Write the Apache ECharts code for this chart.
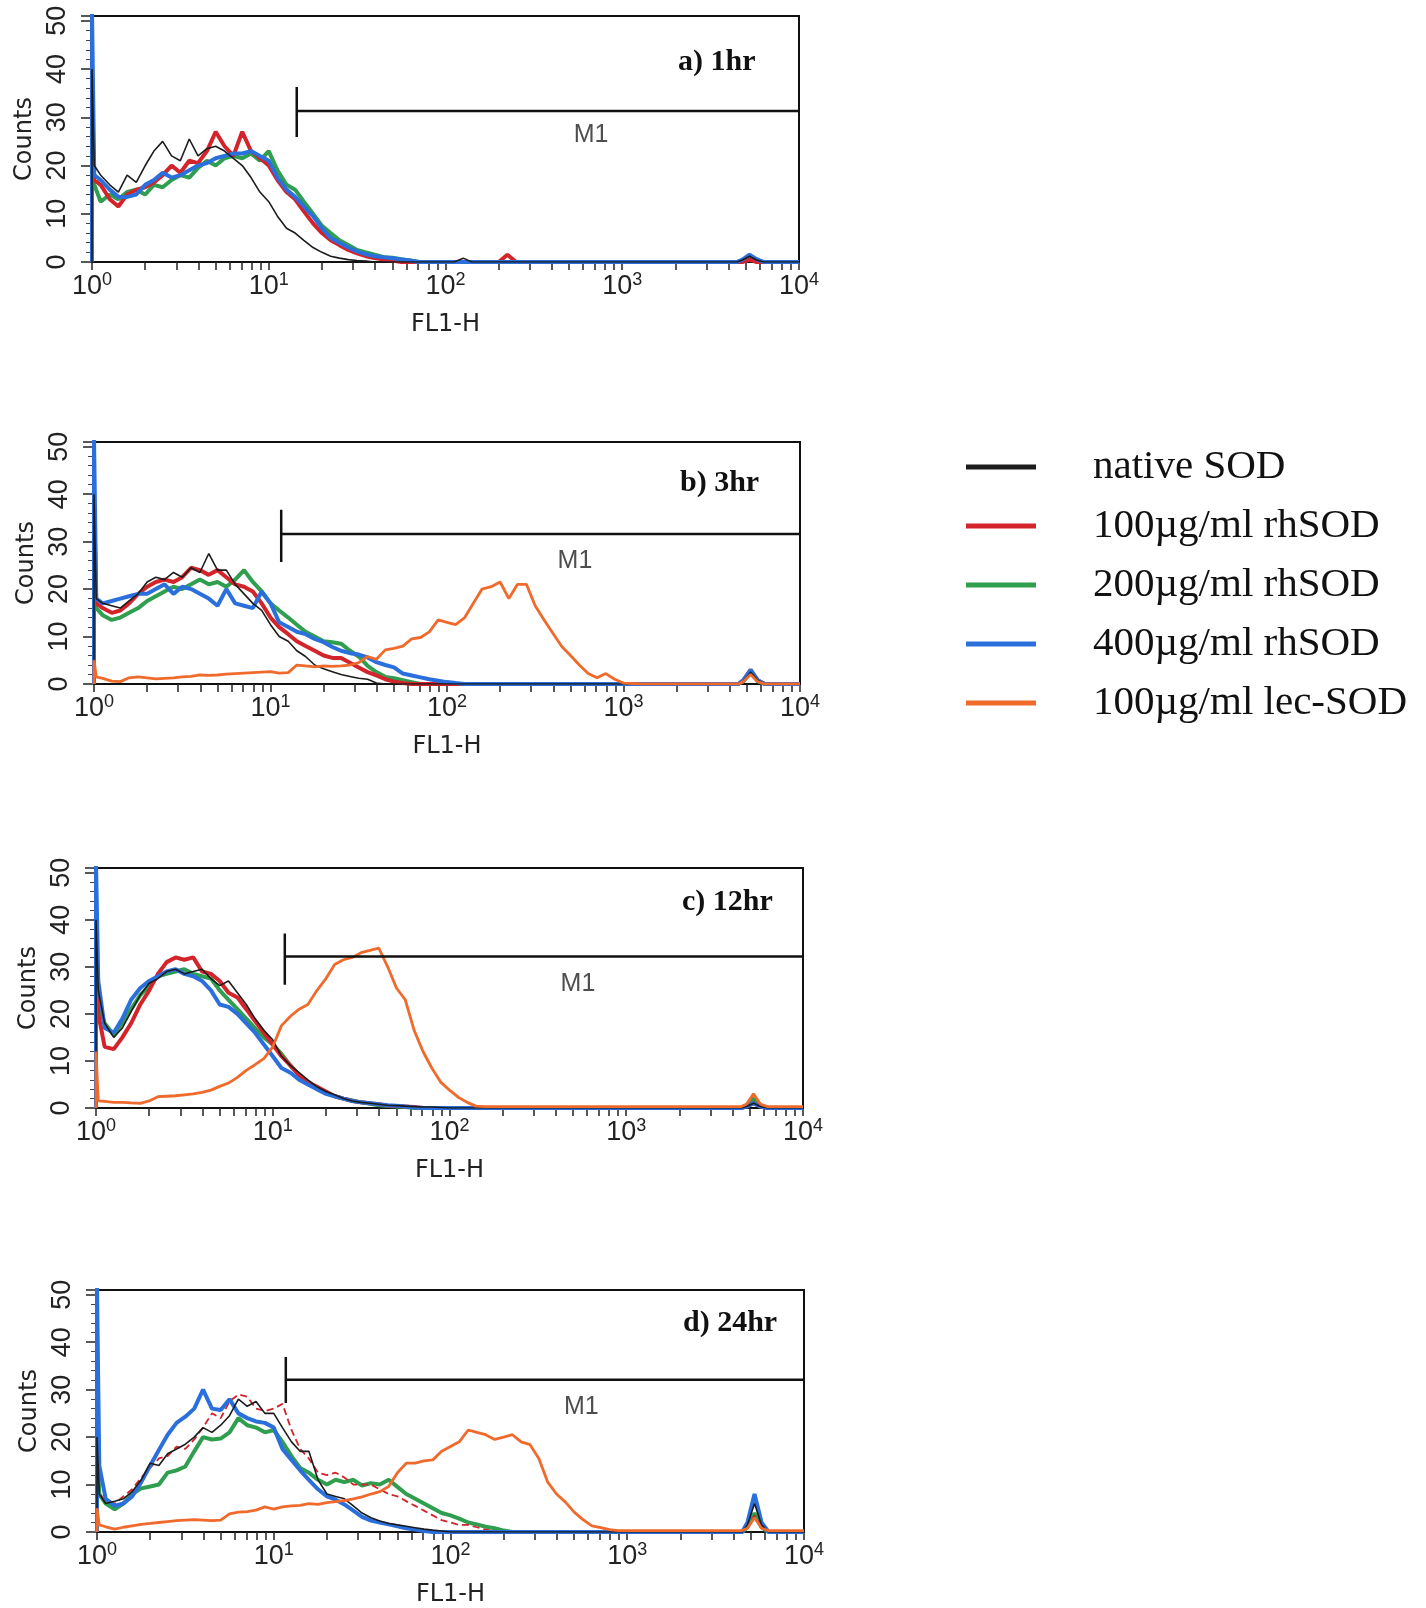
<!DOCTYPE html>
<html>
<head>
<meta charset="utf-8">
<script src="https://cdn.jsdelivr.net/npm/echarts@6/dist/echarts.min.js"></script>
<style>
html,body{margin:0;padding:0;background:#fff;}
#chart{width:1426px;height:1608px;}
</style>
</head>
<body>
<div id="chart"></div>
<script>
// FL1-H channel values (x), shared by all histograms
const FL1 = [1, 1.03,
  1.12, 1.26, 1.41, 1.58, 1.78, 2.00, 2.24, 2.51, 2.82, 3.16, 3.55, 3.98, 4.47, 5.01, 5.62, 6.31, 7.08, 7.94, 8.91, 10.0,
  11.2, 12.6, 14.1, 15.8, 17.8, 20.0, 22.4, 25.1, 28.2, 31.6, 35.5, 39.8, 44.7, 50.1, 56.2, 63.1, 70.8, 79.4, 89.1, 100,
  112, 126, 141, 158, 178, 200, 224, 251, 282, 316, 355, 398, 447, 501, 562, 631, 708, 794, 891, 1000,
  1259, 1585, 1995, 2512, 3162, 3981, 4467, 4786, 5248, 5754, 6310, 7943, 10000];

const SERIES_NAMES = ['native SOD', '100µg/ml rhSOD', '200µg/ml rhSOD', '400µg/ml rhSOD', '100µg/ml lec-SOD'];
const PANEL_TITLES = ['a) 1hr', 'b) 3hr', 'c) 12hr', 'd) 24hr'];
const X_LABEL_VALUES = [1, 10, 100, 1000, 10000];
const X_TICK_VALUES = [1,2,3,4,5,6,7,8,9,10,20,30,40,50,60,70,80,90,100,200,300,400,500,600,700,800,900,1000,2000,3000,4000,5000,6000,7000,8000,9000,10000];
const Y_TICK_LABELS = [0, 10, 20, 30, 40, 50];

// ---- panel a) 1hr ----
const blackA = [40, 20,
  18, 16, 14.5, 18, 16.5, 20, 23, 25, 22, 21, 25.5, 22, 23.5, 24, 23, 21.5, 20, 17.5, 14.5, 12.5,
  9.5, 7, 6, 4.5, 3, 2, 1.2, 0.8, 0.5, 0.3, 0.2, 0, 0, 0, 0, 0, 0, 0, 0, 0,
  0, 0.8, 0, 0, 0, 0, 0, 0, 0, 0, 0, 0, 0, 0, 0, 0, 0, 0, 0, 0,
  0, 0, 0, 0, 0, 0, 0, 0.4, 1.2, 0.4, 0, 0, 0];
const redA = [30, 17,
  16, 13, 11.5, 14, 15, 15.5, 16.5, 18, 20, 18.5, 21, 20.5, 23, 27, 24, 22, 27, 23, 21.5, 20,
  17, 14.5, 13, 10.5, 8, 6, 4.5, 3.5, 2.5, 1.8, 1.2, 0.8, 0.5, 0.3, 0, 0, 0, 0, 0, 0,
  0, 0, 0, 0, 0, 0, 1.5, 0, 0, 0, 0, 0, 0, 0, 0, 0, 0, 0, 0, 0,
  0, 0, 0, 0, 0, 0, 0, 0, 0.5, 0, 0, 0, 0];
const greenA = [30, 16,
  12.5, 14, 13, 14.5, 15, 14, 16, 15.5, 17, 18, 17.5, 19.5, 21, 20, 21.5, 22, 21.5, 22.5, 21, 23,
  19, 16, 15, 12.5, 10, 7.5, 6, 4.5, 3.5, 2.5, 2, 1.5, 1, 0.9, 0.6, 0.3, 0, 0, 0, 0,
  0, 0, 0, 0, 0, 0, 0, 0, 0, 0, 0, 0, 0, 0, 0, 0, 0, 0, 0, 0,
  0, 0, 0, 0, 0, 0, 0, 0.3, 1, 0.3, 0, 0, 0];
const blueA = [52, 18,
  17, 15, 13.5, 13.5, 14, 16, 17, 18.5, 17.5, 18, 19, 20, 20.5, 21.5, 22, 22.5, 22.5, 23, 22, 21,
  17.5, 15, 13.5, 11.5, 9.5, 7, 5, 4, 3, 2.2, 1.6, 1.2, 1, 0.8, 0.5, 0.3, 0, 0, 0, 0,
  0, 0, 0, 0, 0, 0, 0, 0, 0, 0, 0, 0, 0, 0, 0, 0, 0, 0, 0, 0,
  0, 0, 0, 0, 0, 0, 0, 0.5, 1.5, 0.6, 0, 0, 0];

// ---- panel b) 3hr ----
const blackB = [40, 18,
  17, 16.5, 16, 17.5, 19, 21.5, 22.5, 22, 23.5, 22.5, 24.5, 23.5, 27.5, 24, 24, 21, 19, 17, 15.5, 12.5,
  10, 9, 7, 5.8, 4, 3.2, 2.6, 2, 1.6, 1.2, 1, 0.2, 0, 0, 0, 0, 0, 0, 0, 0,
  0, 0, 0, 0, 0, 0, 0, 0, 0, 0, 0, 0, 0, 0, 0, 0, 0, 0, 0, 0,
  0, 0, 0, 0, 0, 0, 0, 0.6, 2.5, 0.8, 0, 0, 0];
const redB = [40, 17,
  16, 15, 15.5, 17, 19, 20.5, 21.5, 22, 21.5, 22.5, 24.5, 24, 23, 24, 22.5, 21, 20.5, 19.5, 17, 14,
  12, 10.5, 9, 8, 7, 6, 5.5, 5.5, 4.5, 3.5, 2.5, 1.8, 1, 0.5, 0.2, 0, 0, 0, 0, 0,
  0, 0, 0, 0, 0, 0, 0, 0, 0, 0, 0, 0, 0, 0, 0, 0, 0, 0, 0, 0,
  0, 0, 0, 0, 0, 0, 0, 0.8, 3, 0.8, 0, 0, 0];
const greenB = [30, 16,
  14.5, 13.5, 14, 15, 16, 17.5, 18.5, 19.5, 20.5, 20, 21, 22, 21, 21.5, 20.5, 22, 24, 21.5, 19.5, 17,
  15.5, 14, 12.5, 11, 10, 9, 8.8, 8.5, 7, 5.8, 3.8, 2.5, 1.5, 1.2, 0.8, 0.4, 0, 0, 0, 0,
  0, 0, 0, 0, 0, 0, 0, 0, 0, 0, 0, 0, 0, 0, 0, 0, 0, 0, 0, 0,
  0, 0, 0, 0, 0, 0, 0, 0.6, 2.5, 0.6, 0, 0, 0];
const blueB = [52, 18,
  17, 17.5, 18, 18.5, 19, 19, 20, 21, 19, 20.5, 20, 19, 18, 16.5, 20, 17, 16.5, 16, 19.5, 17,
  13, 12, 11, 10.5, 9.5, 8.8, 7.8, 7, 6.5, 6.2, 5.6, 4.6, 4, 3.5, 2.2, 1.8, 1.4, 1, 0.7, 0.4,
  0.2, 0, 0, 0, 0, 0, 0, 0, 0, 0, 0, 0, 0, 0, 0, 0, 0, 0, 0, 0,
  0, 0, 0, 0, 0, 0, 0, 0.8, 3, 0.8, 0, 0, 0];
const orangeB = [5, 1.5,
  1.2, 0.6, 0.5, 1.3, 1.5, 1.3, 1.1, 1.2, 1.3, 1.5, 1.6, 1.9, 1.8, 1.9, 2.1, 2.2, 2.3, 2.4, 2.5, 2.6,
  2.3, 2.4, 4, 3.8, 3.6, 3.8, 3.7, 3.8, 4, 4.5, 5.8, 5.2, 7.2, 7.5, 8, 9.5, 9.8, 11, 13.5, 13,
  12.5, 14, 17, 20, 20.5, 21.5, 18, 21, 21, 16.5, 13.5, 10.7, 7.9, 6, 4, 2.2, 1.3, 2.2, 1, 0.2,
  0, 0, 0, 0, 0, 0, 0, 0.5, 2, 0.5, 0, 0, 0];

// ---- panel c) 12hr ----
const blackC = [40, 25,
  18, 15, 17, 20.5, 24, 26.5, 27.5, 29, 29.5, 28.5, 29, 29.5, 27.5, 26, 27, 24.5, 22, 19, 16.5, 14.5,
  11, 9, 7.5, 6, 4.5, 3.5, 2.8, 2, 1.5, 1.2, 1, 0.8, 0.6, 0.5, 0.4, 0.3, 0.2, 0.2, 0.1, 0,
  0, 0, 0, 0, 0, 0, 0, 0, 0, 0, 0, 0, 0, 0, 0, 0, 0, 0, 0, 0,
  0, 0, 0, 0, 0, 0, 0, 0.3, 1, 0.3, 0, 0, 0];
const redC = [27, 20,
  13, 12.5, 15, 18, 22, 25, 28.5, 31, 32, 31.5, 32, 29, 28.5, 27, 24.5, 23.5, 21, 18.5, 16, 13.5,
  11, 9, 7, 5.5, 4.5, 3.5, 2.5, 2, 1.5, 1.2, 1, 0.8, 0.5, 0.4, 0.3, 0.2, 0, 0, 0, 0,
  0, 0, 0, 0, 0, 0, 0, 0, 0, 0, 0, 0, 0, 0, 0, 0, 0, 0, 0, 0,
  0, 0, 0, 0, 0, 0, 0, 0.3, 1, 0.3, 0, 0, 0];
const greenC = [30, 22,
  18, 15.5, 18, 21, 24, 26, 28, 28.5, 29, 29.5, 28.5, 28, 27.5, 25, 23, 21, 19, 17, 15, 13.5,
  11.5, 9, 7, 5.5, 4, 3.2, 2.5, 2, 1.6, 1.2, 0.9, 0.6, 0.4, 0.3, 0.2, 0, 0, 0, 0, 0,
  0, 0, 0, 0, 0, 0, 0, 0, 0, 0, 0, 0, 0, 0, 0, 0, 0, 0, 0, 0,
  0, 0, 0, 0, 0, 0, 0, 0.6, 2, 0.6, 0, 0, 0];
const blueC = [52, 27,
  17, 16, 19, 23, 25.5, 27, 28, 29, 29.5, 28.5, 28, 27, 25, 22, 21.5, 20, 18, 16, 13.5, 11,
  8.5, 7.5, 6, 5, 4, 3, 2.5, 2, 1.5, 1.2, 1, 0.8, 0.6, 0.5, 0.3, 0.1, 0, 0, 0, 0,
  0, 0, 0, 0, 0, 0, 0, 0, 0, 0, 0, 0, 0, 0, 0, 0, 0, 0, 0, 0,
  0, 0, 0, 0, 0, 0, 0, 0.3, 1, 0.3, 0, 0, 0];
const orangeC = [12, 1.5,
  1.4, 1.2, 1.2, 1.1, 1.0, 1.5, 2.4, 2.5, 2.6, 2.8, 3.0, 3.3, 3.8, 4.6, 5.3, 6.5, 8, 9.2, 10.5, 13,
  17.5, 19.5, 21, 22, 25, 27.5, 30.5, 31.5, 32, 33, 33.5, 34, 30, 25.5, 23, 16.5, 12, 8.5, 5.5, 3.8,
  2.3, 1.2, 0.4, 0.3, 0.3, 0.3, 0.3, 0.3, 0.3, 0.3, 0.3, 0.3, 0.3, 0.3, 0.3, 0.3, 0.3, 0.3, 0.3, 0.3,
  0.3, 0.3, 0.3, 0.3, 0.3, 0.3, 0.3, 0.8, 3, 0.8, 0.3, 0.3, 0.3];

// ---- panel d) 24hr ----
const blackD = [20, 8,
  6, 6.5, 7, 8.5, 11, 14.5, 14, 16.5, 17.5, 18.5, 20, 22, 21, 22.5, 24.5, 28, 26.5, 27.5, 25, 25,
  22, 19, 17, 17, 11, 8, 7.5, 7, 5.5, 4, 3, 2.3, 1.8, 1.5, 1.2, 0.9, 0.6, 0.4, 0.2, 0,
  0, 0, 0, 0, 0, 0, 0, 0, 0, 0, 0, 0, 0, 0, 0, 0, 0, 0, 0, 0,
  0, 0, 0, 0, 0, 0, 0, 1.5, 6, 1.5, 0, 0, 0];
const redD = [20, 8,
  6.5, 6, 7.5, 9, 11.5, 13.5, 15.5, 16, 18, 17.5, 19.5, 22, 25, 24, 27.5, 29, 28.5, 26, 25.5, 26,
  27, 21.5, 17.5, 15.5, 12.5, 12, 12.5, 11.5, 10, 10, 10, 9, 8, 7.5, 6.5, 5.5, 4.5, 3.5, 2.5, 2,
  1.5, 1.5, 1, 0.5, 0.2, 0, 0, 0, 0, 0, 0, 0, 0, 0, 0, 0, 0, 0, 0, 0,
  0, 0, 0, 0, 0, 0, 0, 1, 3.5, 1, 0, 0, 0];
const greenD = [20, 8,
  6, 4.8, 6, 8, 9.2, 9.6, 10, 12.5, 13, 13.8, 17, 20, 19.5, 19.7, 21, 24, 22.5, 22, 21, 21.5,
  19, 16, 13.5, 12.5, 11, 10, 11, 10.5, 11, 9.8, 10.3, 10, 11, 9.5, 8, 7, 6, 5, 4, 3.5,
  2.8, 2, 1.6, 1.1, 0.8, 0.3, 0, 0, 0, 0, 0, 0, 0, 0, 0, 0, 0, 0, 0, 0,
  0, 0, 0, 0, 0, 0, 0, 1, 4, 1, 0, 0, 0];
const blueD = [52, 14,
  7, 5.5, 6, 7.5, 10.5, 14, 17.3, 20.5, 23, 24.3, 26, 30, 26, 25.7, 28, 25, 24, 23.3, 23, 22,
  17.5, 15.2, 13, 11, 9, 7.5, 6.8, 5.8, 4.5, 3.2, 2.4, 2, 1.6, 1.2, 0.8, 0.5, 0.2, 0, 0, 0,
  0, 0, 0, 0, 0, 0, 0, 0, 0, 0, 0, 0, 0, 0, 0, 0, 0, 0, 0, 0,
  0, 0, 0, 0, 0, 0, 0, 2, 8, 2, 0, 0, 0];
const orangeD = [5, 1.5,
  1.1, 0.6, 1.0, 1.3, 1.6, 1.8, 2.0, 2.2, 2.4, 2.5, 2.6, 2.5, 2.4, 2.5, 3.8, 4.2, 4.3, 4.6, 5.3, 4.8,
  5.3, 5.5, 5.6, 6, 5.8, 6.2, 6.4, 6.6, 7, 7.4, 8, 8.5, 9.6, 12.5, 14.5, 14.5, 15, 15.2, 17, 18,
  19, 21.5, 21, 20.5, 19.5, 20, 20.5, 19, 18.4, 15.5, 10.5, 8, 6.3, 4.2, 2.6, 1.3, 0.9, 0.5, 0.3, 0.3,
  0.3, 0.3, 0.3, 0.3, 0.3, 0.3, 0.3, 0.8, 3, 0.8, 0.3, 0.3, 0.3];

// M1 marker per panel: start channel, horizontal level, tick top, tick bottom, label x, label y
const M1_START = [14.4, 11.5, 11.7, 11.7];
const M1_LEVEL = [31.3, 31.6, 32.2, 32.1];
const M1_TOP = [36.3, 36.7, 37.1, 36.9];
const M1_BOTTOM = [25.9, 25.7, 26.2, 27.2];
const M1_LABEL_X = [667, 531, 533, 550];
const M1_LABEL_Y = [26.3, 26.0, 26.4, 26.4];

const PANELS = [
  {native: blackA, r100: redA, r200: greenA, r400: blueA, lec: null},
  {native: blackB, r100: redB, r200: greenB, r400: blueB, lec: orangeB},
  {native: blackC, r100: redC, r200: greenC, r400: blueC, lec: orangeC},
  {native: blackD, r100: redD, r200: greenD, r400: blueD, lec: orangeD}
];

const COLORS = {native: '#1c1c1c', r100: '#d3232b', r200: '#2f9e4f', r400: '#2a6fdc', lec: '#f06a2c'};
const NAME_OF = {native: SERIES_NAMES[0], r100: SERIES_NAMES[1], r200: SERIES_NAMES[2], r400: SERIES_NAMES[3], lec: SERIES_NAMES[4]};

// layout (pixels)
const GRIDS = [
  {left: 92, top: 16, width: 707, height: 246},
  {left: 94, top: 442, width: 706, height: 242},
  {left: 96, top: 868, width: 707, height: 240},
  {left: 97, top: 1290, width: 707, height: 242}
];

const SANS = "'Liberation Sans', Arial, sans-serif";
const SERIF = "'Liberation Serif', 'Times New Roman', serif";

function toData(vals) {
  const d = [[FL1[0], 0]];
  for (let i = 0; i < FL1.length; i++) d.push([FL1[i], vals[i]]);
  return d;
}

const xAxes = [], yAxes = [], series = [], titles = [];
GRIDS.forEach((g, i) => {
  xAxes.push({
    type: 'log', logBase: 10, min: 1, max: 10000, gridIndex: i,
    axisLine: {show: true, lineStyle: {color: '#111', width: 2}},
    axisTick: {show: true, length: 8, customValues: X_TICK_VALUES, lineStyle: {color: '#222', width: 1.5}},
    axisLabel: {
      customValues: X_LABEL_VALUES, margin: 9, color: '#222',
      formatter: v => '{b|10}{s|' + Math.round(Math.log10(v)) + '}',
      rich: {
        b: {fontFamily: SANS, fontSize: 27, lineHeight: 31, color: '#222'},
        s: {fontFamily: SANS, fontSize: 18, lineHeight: 18, verticalAlign: 'top', color: '#222'}
      }
    },
    splitLine: {show: false},
    name: 'FL1-H', nameLocation: 'middle', nameGap: 51,
    nameTextStyle: {fontFamily: "'DejaVu Sans', sans-serif", fontSize: 24, color: '#222'}
  });
  yAxes.push({
    type: 'value', min: 0, max: 51, interval: 10, gridIndex: i,
    axisLine: {show: true, lineStyle: {color: '#111', width: 2}},
    axisTick: {show: true, length: 11, lineStyle: {color: '#222', width: 1.5}},
    minorTick: {show: true, splitNumber: 5, length: 6, lineStyle: {color: '#444', width: 1}},
    axisLabel: {rotate: 90, showMaxLabel: false, fontFamily: SANS, fontSize: 27, color: '#222', margin: 21},
    splitLine: {show: false},
    name: 'Counts', nameLocation: 'middle', nameGap: 55, nameRotate: 90,
    nameTextStyle: {fontFamily: "'DejaVu Sans', sans-serif", fontSize: 24, color: '#222'}
  });
  const p = PANELS[i];
  const order = ['r200', 'r100', 'r400', 'native', 'lec'];
  order.forEach(k => {
    if (!p[k]) return;
    const w = k === 'native' ? 1.6 : (k === 'lec' ? 2.8 : 4);
    const ls = {color: COLORS[k], width: w};
    if (i === 3 && k === 'r100') { ls.width = 1.8; ls.type = [7, 4]; }
    series.push({
      name: NAME_OF[k], type: 'line', xAxisIndex: i, yAxisIndex: i,
      data: toData(p[k]), showSymbol: false, symbol: 'none',
      itemStyle: {color: COLORS[k]}, lineStyle: ls, animation: false
    });
  });
  // M1 gate marker
  series.push({
    name: 'M1', type: 'line', xAxisIndex: i, yAxisIndex: i, symbol: 'none', silent: true,
    data: [[M1_START[i], M1_TOP[i]], [M1_START[i], M1_BOTTOM[i]]],
    lineStyle: {color: '#111', width: 2.5}, animation: false, z: 5
  });
  series.push({
    name: 'M1', type: 'line', xAxisIndex: i, yAxisIndex: i, symbol: 'none', silent: true,
    data: [[M1_START[i], M1_LEVEL[i]], [10000, M1_LEVEL[i]]],
    lineStyle: {color: '#111', width: 2.5}, animation: false, z: 5
  });
  series.push({
    name: 'M1', type: 'scatter', xAxisIndex: i, yAxisIndex: i, silent: true,
    data: [[M1_LABEL_X[i], M1_LABEL_Y[i]]], symbolSize: 1,
    itemStyle: {color: 'rgba(0,0,0,0)'},
    label: {show: true, position: 'inside', formatter: 'M1', fontFamily: SANS, fontSize: 25, color: '#222'},
    animation: false
  });
  titles.push({
    text: PANEL_TITLES[i], left: g.left + 586, top: [47, 468, 887, 1308][i], padding: 0,
    textStyle: {fontFamily: SERIF, fontWeight: 'bold', fontSize: 30, color: '#111'}
  });
});

const chart = echarts.init(document.getElementById('chart'), null, {renderer: 'canvas'});
chart.setOption({
  backgroundColor: '#fff',
  animation: false,
  title: titles,
  grid: GRIDS.map(g => Object.assign({show: true, borderColor: '#111', borderWidth: 2, backgroundColor: 'transparent'}, g)),
  xAxis: xAxes,
  yAxis: yAxes,
  legend: {
    orient: 'vertical', left: 966, top: 445, padding: 0,
    itemWidth: 70, itemHeight: 5, itemGap: 15, icon: 'rect',
    data: SERIES_NAMES,
    formatter: n => '{g|}' + n,
    textStyle: {fontFamily: SERIF, fontSize: 41, color: '#111', lineHeight: 44, rich: {g: {width: 52}}}
  },
  series: series
});
</script>
</body>
</html>
